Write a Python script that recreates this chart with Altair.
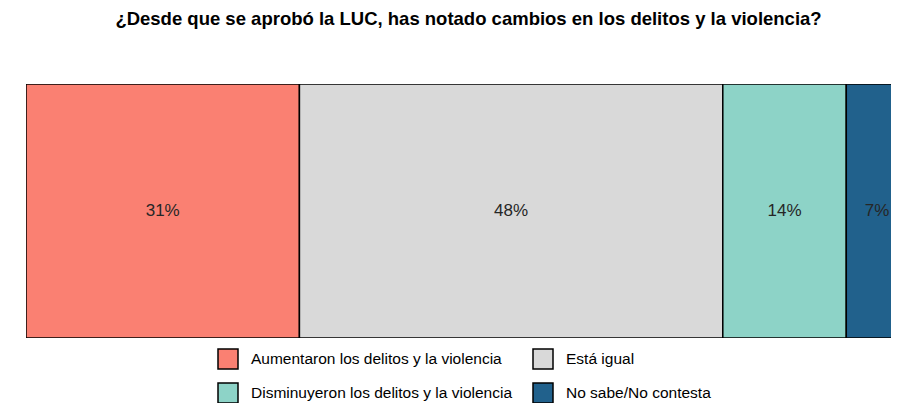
import altair as alt
import pandas as pd

categories = [
    "Aumentaron los delitos y la violencia",
    "Está igual",
    "Disminuyeron los delitos y la violencia",
    "No sabe/No contesta",
]
values = [31, 48, 14, 7]
colors = ["#FA8072", "#D9D9D9", "#8DD3C7", "#21618C"]
title_text = "¿Desde que se aprobó la LUC, has notado cambios en los delitos y la violencia?"

df = pd.DataFrame({"categoria": categories, "valor": values, "orden": list(range(len(values)))})

FONT = "Liberation Sans"

base = alt.Chart(df).transform_window(
    fin="sum(valor)", sort=[alt.SortField("orden")], frame=[None, 0]
).transform_calculate(
    inicio="datum.fin - datum.valor",
    medio="datum.fin - datum.valor / 2",
    etiqueta="datum.valor + '%'",
    grupo="'a'",
)

# the visible window shows ~98% of the full bar (the rest is cut at the right edge)
xscale = alt.Scale(domain=[0, 98.07], nice=False, zero=False)
yenc = alt.Y("grupo:N", axis=None, scale=alt.Scale(paddingInner=0, paddingOuter=0))

bars = base.mark_bar(stroke="black", strokeWidth=1.5, clip=True).encode(
    x=alt.X("inicio:Q", scale=xscale, axis=None),
    x2="fin:Q",
    y=yenc,
    fill=alt.Fill(
        "categoria:N",
        scale=alt.Scale(domain=categories, range=colors),
        sort=categories,
        legend=alt.Legend(
            title=None,
            orient="none",
            direction="horizontal",
            legendX=191,
            legendY=264,
            columns=2,
            symbolType="square",
            symbolSize=400,
            symbolStrokeColor="black",
            symbolStrokeWidth=1.5,
            symbolOpacity=1,
            labelFont=FONT,
            labelFontSize=15.5,
            labelColor="black",
            labelLimit=0,
            labelOffset=12,
            rowPadding=8,
            columnPadding=17,
            padding=0,
        ),
    ),
)

labels = base.mark_text(fontSize=17, font=FONT, color="#262626", baseline="middle").encode(
    x=alt.X("medio:Q", scale=xscale, axis=None),
    y=yenc,
    text="etiqueta:N",
)

chart = (
    alt.layer(bars, labels)
    .properties(
        width=865,
        height=254,
        autosize=alt.AutoSizeParams(type="none"),
        padding={"left": 18, "top": 76, "right": 0, "bottom": 65},
        title=alt.TitleParams(
            text=title_text,
            font=FONT,
            fontSize=18.5,
            fontWeight="bold",
            color="black",
            anchor="middle",
            baseline="alphabetic",
            offset=41,
            dx=10,
        ),
    )
    .configure_view(stroke=None)
)

chart.save("out.html", embed_options={"renderer": "svg", "actions": False})
